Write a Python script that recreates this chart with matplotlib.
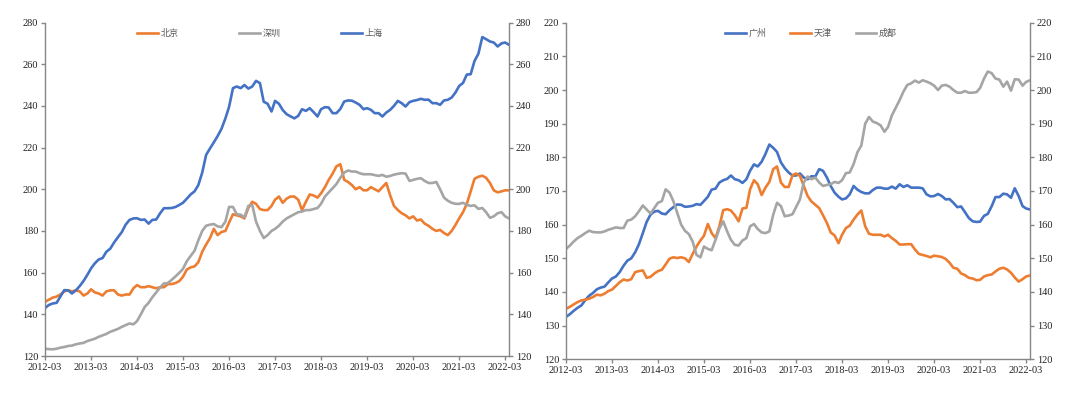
import matplotlib
matplotlib.use('Agg')
import matplotlib.pyplot as plt
import matplotlib.dates as mdates
import pandas as pd

plt.rcParams['font.family'] = ['Liberation Serif', 'Noto Sans CJK SC', 'DejaVu Sans']

dates = pd.date_range('2012-03-01', periods=122, freq='MS')

# left panel
beijing = [
    146, 147, 148, 148.5, 149.5, 151, 151.5, 151, 151.5, 151, 149, 150,
    152, 150.5, 150, 149, 151, 151.5, 151.5, 149.5, 149, 149.5, 149.5, 152.5,
    154, 153, 153, 153.5, 153, 152.5, 153, 153, 154.5, 154.5, 155, 156,
    158, 161.5, 162.5, 163, 165, 170, 173.5, 176.5, 181, 178, 179.5, 180,
    184, 188, 187.5, 187, 186, 191, 194, 193, 190.5, 190, 190, 192,
    195, 196.5, 193.5, 195.5, 196.5, 196.5, 195, 190, 194, 197.5, 197, 196,
    198, 201, 204.5, 207.5, 211, 212, 204.5, 203.5, 202, 200, 201, 199.5,
    199.5, 201, 200, 199, 201, 203, 197, 192, 190, 188.5, 187.5, 186,
    187, 185, 185.5, 183.5, 182.5, 181, 180, 180.5, 179, 178, 180, 183,
    186, 189, 193, 199, 205, 206, 206.5, 205.5, 203, 199.5, 198.5, 199,
    199.5, 199.5,
]
shenzhen = [
    123.5, 123.3, 123.2, 123.5, 124, 124.3, 124.8, 125, 125.6, 126, 126.3, 127.2,
    127.7, 128.3, 129.2, 129.9, 130.6, 131.6, 132.3, 133, 134, 134.8, 135.6, 135.2,
    136.7, 140, 143.5, 145.5, 148.2, 150.5, 152.9, 154.8, 155, 156.5, 158.2, 160,
    161.8, 165.5, 168, 170.5, 175.5, 180, 182.5, 183, 183.3, 182.2, 181.8, 184.5,
    191.5, 191.5, 188, 187.8, 186.5, 192, 192.5, 184.5, 180, 176.6, 178, 180,
    181, 182.5, 184.5, 186, 187, 188, 189, 189.3, 190, 190, 190.5, 191,
    193, 196.5, 198.5, 200.5, 202.5, 205.5, 208, 209, 208.5, 208.5, 207.7, 207.2,
    207.2, 207.2, 206.8, 206.4, 206.9, 206, 206.4, 207, 207.4, 207.7, 207.5, 204,
    204.5, 205, 205.3, 204, 203, 203, 203.5, 200, 196, 194.5, 193.5, 193,
    193, 193.5, 192.5, 192, 192.3, 190.6, 191, 189, 186.3, 187, 188.5, 189,
    187, 186,
]
shanghai = [
    143, 144.5, 145.2, 145.5, 148.5, 151.6, 151.5, 150, 151.5, 153.5, 156, 159,
    162, 164.5, 166.3, 167, 170, 171.5, 174.5, 177, 179.5, 183, 185.3, 186,
    186.1, 185.3, 185.5, 183.5, 185.3, 185.5, 188.5, 190.9, 190.9, 191, 191.5, 192.5,
    193.5, 195.5, 197.5, 199, 202, 208, 216.5, 219.5, 222.5, 225.5, 229, 234,
    239.5, 248.5, 249.3, 248.5, 250, 248.3, 249.3, 252, 250.9, 242, 241, 237.3,
    242.4, 241, 238, 236, 235, 234, 235.2, 238.4, 237.6, 238.9, 237, 234.9,
    238.4, 239.4, 239.2, 236.5, 236.5, 238.5, 242.1, 242.6, 242.5, 241.6, 240.5, 238.4,
    238.9, 238.1, 236.5, 236.5, 234.9, 236.8, 238.1, 240, 242.4, 241.3, 239.7, 241.8,
    242.4, 242.8, 243.4, 242.9, 243, 241.3, 241.3, 240.5, 242.6, 242.9, 244, 246.5,
    249.5, 251, 255, 255.2, 261.5, 265, 273, 272, 270.9, 270.4, 268.5, 270,
    270.4, 269.3,
]

# right panel
guangzhou = [
    132.6, 133.4, 134.4, 135.3, 136, 137.6, 138.9, 139.7, 140.8, 141.3, 141.6, 142.9,
    144, 144.6, 145.9, 147.8, 149.3, 150, 151.8, 154.2, 157.5, 160.8, 163, 163.9,
    164.1, 163.3, 163.1, 164.3, 165.2, 166, 165.9, 165.3, 165.4, 165.6, 166.1, 165.9,
    167, 168.3, 170.4, 170.7, 172.5, 173.2, 173.6, 174.6, 173.5, 173.2, 172.4, 173.5,
    176, 177.9, 177.3, 178.7, 181, 183.8, 182.8, 181.6, 178.5, 176.8, 175.5, 174.6,
    174.6, 175.2, 174, 173.5, 174.4, 174.3, 176.5, 176, 174, 171.5, 169.5, 168.3,
    167.5, 167.8, 169, 171.5, 170.4, 169.7, 169.3, 169.3, 170.3, 171, 171, 170.7,
    170.7, 171.3, 170.7, 172, 171.2, 171.7, 171, 171, 171, 170.8, 169, 168.4,
    168.5, 169.1, 168.5, 167.5, 167.6, 166.5, 165.2, 165.4, 163.7, 162, 161, 160.8,
    160.9, 162.6, 163.2, 165.5, 168.2, 168.2, 169.2, 169, 168, 170.8, 168.5, 165.5,
    164.8, 164.5,
]
tianjin = [
    135, 135.6, 136.3, 137, 137.5, 137.7, 138, 138.5, 139.2, 139, 139.5, 140.3,
    140.7, 141.8, 142.9, 143.7, 143.4, 143.8, 145.9, 146.2, 146.4, 144.2, 144.5, 145.5,
    146.2, 146.6, 148.2, 149.9, 150.3, 150.1, 150.3, 150, 148.9, 151.3, 153.5, 155.3,
    156.7, 160.2, 157.5, 156, 159.5, 164.3, 164.6, 164.2, 162.8, 161, 164.8, 165,
    170.5, 173.2, 172, 168.8, 171, 172.7, 176.5, 177.3, 172.5, 171.2, 171.2, 174.7,
    175.2, 174.5, 171.5, 168.5, 166.9, 165.9, 164.9, 162.8, 160.5, 157.7, 156.8, 154.5,
    157, 159, 159.7, 161.5, 163, 164.2, 159.5, 157.3, 157, 157, 157, 156.5,
    157, 156, 155.2, 154.1, 154.1, 154.2, 154.2, 152.6, 151.3, 151, 150.7, 150.3,
    150.8, 150.6, 150.4, 149.8, 148.7, 147.2, 146.9, 145.5, 145, 144.2, 144, 143.5,
    143.6, 144.6, 145, 145.2, 146.1, 146.9, 147.2, 146.7, 145.7, 144.3, 143.1, 143.8,
    144.6, 144.9,
]
chengdu = [
    152.8, 153.8, 155, 156, 156.7, 157.5, 158.2, 157.8, 157.7, 157.7, 158, 158.5,
    158.8, 159.2, 159, 159, 161.2, 161.5, 162.5, 164, 165.7, 164.5, 163.3, 165,
    166.5, 167, 170.5, 169.5, 167, 163.5, 160, 158.2, 157.2, 155, 151, 150.3,
    153.5, 152.8, 152.4, 155.5, 158.8, 161, 158, 155.5, 154, 153.8, 155.3, 156,
    159.5, 160.2, 158.7, 157.7, 157.5, 158, 163, 166.5, 165.5, 162.5, 162.7, 163.1,
    165.2, 167.5, 172.5, 174.3, 173.5, 174, 172.5, 171.5, 171.8, 172, 172.7, 172.4,
    173.2, 175.3, 175.5, 178, 181.5, 183.5, 190, 192, 190.6, 190.2, 189.5, 187.6,
    189, 192.5, 194.7, 197, 199.5, 201.5, 202, 202.8, 202.2, 202.9, 202.5, 202,
    201.3, 200, 201.3, 201.5, 201, 200, 199.2, 199.2, 199.7, 199.2, 199.2, 199.4,
    200.6, 203.4, 205.5, 205, 203.4, 203.1, 201, 202.5, 199.8, 203.2, 203.1, 201.3,
    202.4, 202.9,
]

ORANGE = '#ED7D31'
GREY = '#A5A5A5'
BLUE = '#4472C4'
AXIS = '#868686'


def style_panel(ax, ylo, yhi, step):
    ax.set_xlim(dates[0], dates[-1])
    ax.set_ylim(ylo, yhi)
    ax.set_yticks(range(ylo, yhi + 1, step))
    ax.xaxis.set_major_locator(mdates.MonthLocator(bymonth=3))
    ax.xaxis.set_major_formatter(mdates.DateFormatter('%Y-%m'))
    ax.spines['top'].set_visible(False)
    ax.spines['right'].set_visible(False)
    for s in ('left', 'bottom'):
        ax.spines[s].set_color(AXIS)
        ax.spines[s].set_linewidth(1.0)
    ax.tick_params(axis='both', colors=AXIS, labelcolor='#222222',
                   labelsize=7.5, length=3, width=1, direction='out', pad=2)
    ax2 = ax.twinx()
    ax2.set_ylim(ylo, yhi)
    ax2.set_yticks(range(ylo, yhi + 1, step))
    for s in ('top', 'left', 'bottom'):
        ax2.spines[s].set_visible(False)
    ax2.spines['right'].set_color(AXIS)
    ax2.spines['right'].set_linewidth(1.0)
    ax2.tick_params(axis='y', colors=AXIS, labelcolor='#222222',
                    labelsize=7.5, length=3, width=1, direction='out', pad=2)
    return ax2


fig = plt.figure(figsize=(10.8, 3.95), dpi=100)
ax1 = fig.add_axes([45 / 1080, 1 - 356 / 395, 464 / 1080, 333.5 / 395])
ax3 = fig.add_axes([566 / 1080, 1 - 359.3 / 395, 464 / 1080, 336.6 / 395])

lw = 1.9
ax1.plot(dates, beijing, color=ORANGE, lw=lw, label='北京')
ax1.plot(dates, shenzhen, color=GREY, lw=lw, label='深圳')
ax1.plot(dates, shanghai, color=BLUE, lw=lw, label='上海')
style_panel(ax1, 120, 280, 20)

ax3.plot(dates, guangzhou, color=BLUE, lw=lw, label='广州')
ax3.plot(dates, tianjin, color=ORANGE, lw=lw, label='天津')
ax3.plot(dates, chengdu, color=GREY, lw=lw, label='成都')
style_panel(ax3, 120, 220, 10)

leg_font = {'family': ['Noto Sans CJK SC', 'DejaVu Sans'], 'size': 6.5}
for ax, bx, cs in ((ax1, 0.463, 6.7), (ax3, 0.528, 2.65)):
    leg = ax.legend(loc='center', bbox_to_anchor=(bx, 0.968), ncol=3,
                    frameon=False, prop=leg_font, handlelength=2.3,
                    handletextpad=0.3, columnspacing=cs)
    for t in leg.get_texts():
        t.set_color('#595959')
    ax.set_zorder(3)
    ax.patch.set_visible(False)

fig.savefig('out.png', dpi=100)
